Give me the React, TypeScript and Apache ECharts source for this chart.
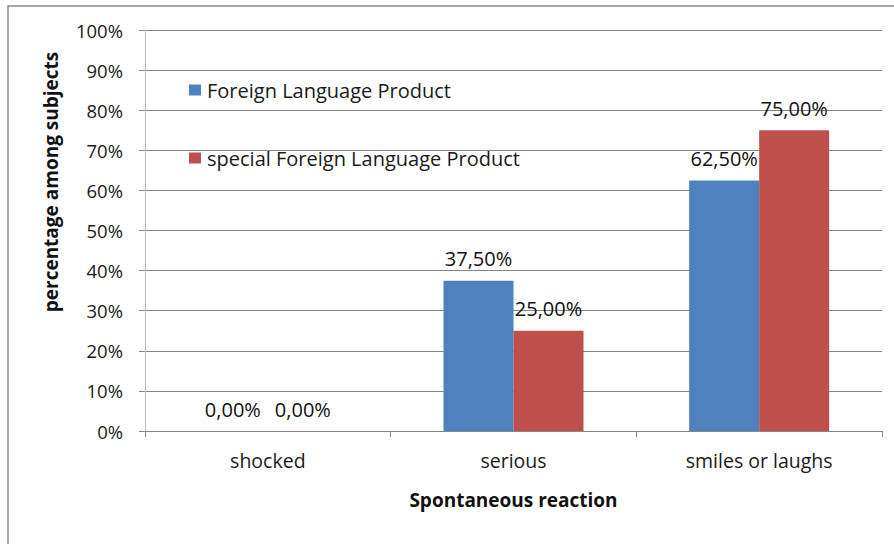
import React, { useEffect, useRef } from "react";
import * as echarts from "echarts";

const categories = ["shocked", "serious", "smiles or laughs"];
const seriesNames = ["Foreign Language Product", "special Foreign Language Product"];
const foreignValues = [0, 37.5, 62.5];
const specialValues = [0, 25, 75];
const colors = ["#4F81BD", "#C0504D"];
const yAxisTitle = "percentage among subjects";
const xAxisTitle = "Spontaneous reaction";

const FONT = "'Open Sans', sans-serif";

export default function App() {
  const ref = useRef<HTMLDivElement>(null);
  useEffect(() => {
    if (!ref.current) return;
    const chart = echarts.init(ref.current, null, { renderer: "svg" });
    const fmt = (p: any) => Number(p.value).toFixed(2).replace(".", ",") + "%";
    chart.setOption({
      animation: false,
      textStyle: { fontFamily: FONT },
      graphic: [
        {
          type: "rect",
          shape: { x: 8, y: 6, width: 1000, height: 1000 },
          style: { fill: "none", stroke: "#8a8a8a", lineWidth: 1.5 },
          silent: true,
        },
        {
          type: "text",
          x: 51,
          y: 182,
          rotation: Math.PI / 2,
          style: {
            text: yAxisTitle,
            fontSize: 19,
            fontWeight: "bold",
            fontFamily: FONT,
            fill: "#111",
            align: "center",
            verticalAlign: "middle",
          },
          silent: true,
        },
      ],
      grid: { left: 145, top: 30, right: 12, bottom: 113, containLabel: false },
      legend: {
        orient: "vertical",
        left: 189,
        top: 80,
        padding: 0,
        itemWidth: 12,
        itemHeight: 11,
        itemGap: 48,
        icon: "rect",
        textStyle: { fontSize: 20, lineHeight: 20, color: "#1a1a1a", fontFamily: FONT, padding: [0, 0, 0, 1] },
        data: seriesNames,
      },
      xAxis: {
        type: "category",
        data: categories,
        axisLine: { lineStyle: { color: "#868686" } },
        axisTick: { show: true, length: 6, lineStyle: { color: "#868686" } },
        axisLabel: { fontSize: 19.5, color: "#1a1a1a", margin: 19, fontFamily: FONT },
        name: xAxisTitle,
        nameLocation: "middle",
        nameGap: 59,
        nameTextStyle: { fontSize: 19, fontWeight: "bold", color: "#111", fontFamily: FONT },
      },
      yAxis: {
        type: "value",
        min: 0,
        max: 100,
        interval: 10,
        axisLine: { show: true, lineStyle: { color: "#bdbdbd" } },
        axisTick: { show: true, length: 6, lineStyle: { color: "#868686" } },
        splitLine: { lineStyle: { color: "#868686" } },
        axisLabel: { fontSize: 18.5, color: "#1a1a1a", margin: 22, formatter: "{value}%", fontFamily: FONT },
      },
      series: [
        {
          name: seriesNames[0],
          type: "bar",
          data: foreignValues,
          barWidth: 70,
          barGap: "0%",
          itemStyle: { color: colors[0] },
          label: { show: true, position: "top", distance: 12, formatter: fmt, fontSize: 20, color: "#111", fontFamily: FONT },
        },
        {
          name: seriesNames[1],
          type: "bar",
          data: specialValues,
          barWidth: 70,
          barGap: "0%",
          itemStyle: { color: colors[1] },
          label: { show: true, position: "top", distance: 12, formatter: fmt, fontSize: 20, color: "#111", fontFamily: FONT },
        },
      ],
    });
    return () => chart.dispose();
  }, []);
  return <div ref={ref} style={{ width: 894, height: 544, position: "absolute", left: 0, top: 0, background: "#fff" }} />;
}
